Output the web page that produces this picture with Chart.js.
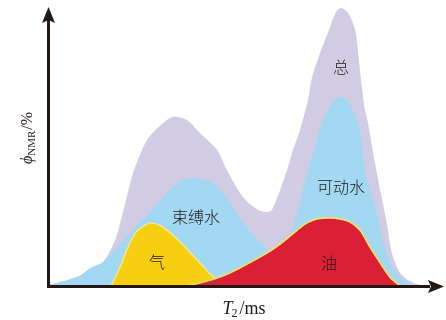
<!DOCTYPE html>
<html>
<head>
<meta charset="utf-8">
<script src="https://cdn.jsdelivr.net/npm/chart.js@4/dist/chart.umd.min.js"></script>
<style>
  html, body { margin: 0; padding: 0; background: #ffffff; }
  #wrap { width: 446px; height: 320px; }
</style>
</head>
<body>
<div id="wrap"><canvas id="c" width="446" height="320"></canvas></div>
<script>
// NMR T2 spectrum split into fluid components (x: relative T2 position, y: relative porosity amplitude)
const totalCurve = [
  [0, 0.4], [4.9, 2.2], [8.2, 4.0], [10.7, 6.5], [13.8, 8.6], [16.9, 16.5], [18.4, 23.7],
  [19.7, 30.9], [21.5, 40.6], [25.1, 52.5], [29.2, 58.6], [31.7, 60.8], [35.3, 59.7],
  [38.6, 55.0], [43.0, 48.9], [45.5, 41.7], [49.6, 32.0], [53.5, 27.3], [55.8, 26.6],
  [57.0, 27.3], [59.1, 34.5], [60.9, 41.7], [62.4, 48.9], [64.2, 56.1], [66.2, 66.9],
  [67.3, 75.2], [69.6, 84.9], [71.9, 93.2], [73.4, 98.6], [74.7, 100], [76.5, 98.2],
  [78.3, 92.1], [79.0, 84.9], [79.8, 74.1], [80.8, 63.3], [81.6, 58.6], [82.9, 47.8],
  [84.7, 34.5], [86.4, 22.7], [87.7, 11.9], [89.8, 4.7], [91.8, 2.2], [94.1, 0.7], [95.4, 0]
];
const waterCurve = [
  [0, 0.4], [4.9, 2.2], [8.2, 4.0], [10.7, 6.5], [13.8, 8.6], [20.7, 19.1], [28.6, 30.9],
  [30.9, 34.5], [34.0, 38.1], [37.9, 38.8], [41.9, 37.1], [44.5, 33.5], [47.1, 28.1],
  [50.6, 21.2], [54.0, 15.5], [56.0, 12.9], [58.3, 11.2], [60.9, 15.5], [62.4, 21.2],
  [64.2, 29.9], [65.5, 38.1], [67.3, 46.4], [68.5, 52.5], [70.1, 59.7], [71.9, 64.4],
  [73.7, 67.6], [74.9, 68.0], [76.2, 66.9], [77.7, 63.3], [79.0, 58.6], [80.1, 50.0],
  [80.8, 41.7], [82.1, 34.5], [83.9, 26.3], [85.2, 17.6], [86.4, 11.9], [88.0, 6.5],
  [90.5, 2.2], [93.1, 0.4], [94.1, 0]
];
const gasCurve = [
  [15.9, 0], [18.2, 6.8], [20.2, 14.0], [22.3, 19.4], [24.6, 21.9], [26.1, 22.7],
  [28.6, 21.6], [32.2, 17.6], [36.2, 11.9], [38.6, 8.3], [41.2, 4.3], [43.7, 1.4], [45.3, 0]
];
const oilCurve = [
  [34.8, 0], [38.6, 1.1], [43.7, 3.2], [48.8, 6.5], [55.8, 11.9], [59.8, 15.8],
  [64.2, 20.9], [66.0, 22.7], [68.5, 24.1], [71.9, 24.5], [74.4, 24.1], [77.0, 23.0],
  [79.5, 20.1], [82.1, 14.0], [84.7, 8.3], [87.2, 3.2], [89.8, 0]
];

// Region names, anchored in data units
const regionNames = ['总', '可动水', '束缚水', '气', '油'];
const regionAnchors = [[74.7, 78.8], [74.7, 35.6], [37.6, 24.8], [27.6, 8.6], [71.6, 8.3]];

const toPoints = arr => arr.map(p => ({ x: p[0], y: p[1] }));
const INK = '#231815';

const axesAndText = {
  id: 'axesAndText',
  afterDatasetsDraw(chart) {
    const { ctx, chartArea: a, scales } = chart;
    const xs = scales.x, ys = scales.y;

    // region names
    ctx.save();
    ctx.fillStyle = INK;
    ctx.font = '300 16px "Noto Sans CJK SC"';
    ctx.textAlign = 'center';
    ctx.textBaseline = 'middle';
    regionNames.forEach((t, i) => {
      ctx.fillText(t, xs.getPixelForValue(regionAnchors[i][0]), ys.getPixelForValue(regionAnchors[i][1]));
    });
    ctx.restore();

    // axes with arrow heads
    const x0 = a.left - 0.5, y0 = a.bottom + 0.5;
    ctx.save();
    ctx.strokeStyle = INK;
    ctx.fillStyle = INK;
    ctx.lineWidth = 3;
    ctx.lineCap = 'butt';
    ctx.beginPath();
    ctx.moveTo(x0, y0 + 1.5);
    ctx.lineTo(x0, a.top + 12);
    ctx.moveTo(x0 - 1.5, y0);
    ctx.lineTo(a.right - 10, y0);
    ctx.stroke();
    // y arrow
    ctx.beginPath();
    ctx.moveTo(x0, a.top - 1);
    ctx.lineTo(x0 + 6.5, a.top + 15);
    ctx.lineTo(x0, a.top + 12);
    ctx.lineTo(x0 - 6.5, a.top + 15);
    ctx.closePath();
    ctx.fill();
    // x arrow
    const xe = a.right + 4;
    ctx.beginPath();
    ctx.moveTo(xe, y0);
    ctx.lineTo(xe - 16, y0 - 6.5);
    ctx.lineTo(xe - 13, y0);
    ctx.lineTo(xe - 16, y0 + 6.5);
    ctx.closePath();
    ctx.fill();
    ctx.restore();

    const big = '18px "Liberation Serif"';
    const bigI = 'italic 18px "Liberation Serif"';
    const sub = '12px "Liberation Serif"';

    // x-axis title: T2/ms
    ctx.save();
    ctx.fillStyle = INK;
    ctx.textBaseline = 'alphabetic';
    ctx.font = bigI; const wT = ctx.measureText('T').width;
    ctx.font = sub; const w2 = ctx.measureText('2').width;
    ctx.font = big; const wR = ctx.measureText('/ms').width;
    let tx = 244 - (wT + w2 + wR + 1) / 2;
    const by = 314;
    ctx.font = bigI; ctx.fillText('T', tx, by); tx += wT;
    ctx.font = sub; ctx.fillText('2', tx - 1, by + 3); tx += w2 + 1;
    ctx.font = big; ctx.fillText('/ms', tx, by);
    ctx.restore();

    // y-axis title: ϕNMR/%
    const yBig = '16px "Liberation Serif"';
    const yBigI = 'italic 16px "Liberation Serif"';
    const ySub = '11px "Liberation Serif"';
    ctx.save();
    ctx.translate(32, 138);
    ctx.rotate(-Math.PI / 2);
    ctx.fillStyle = INK;
    ctx.textBaseline = 'alphabetic';
    ctx.font = yBigI; const wp = ctx.measureText('ϕ').width;
    ctx.font = ySub; const wn = ctx.measureText('NMR').width;
    ctx.font = yBig; const wq = ctx.measureText('/%').width;
    let ty = -(wp + wn + wq + 1) / 2;
    ctx.font = yBigI; ctx.fillText('ϕ', ty, 0); ty += wp;
    ctx.font = ySub; ctx.fillText('NMR', ty, 3); ty += wn + 1;
    ctx.font = yBig; ctx.fillText('/%', ty, 0);
    ctx.restore();
  }
};

new Chart(document.getElementById('c'), {
  type: 'line',
  data: {
    datasets: [
      { label: '油', data: toPoints(oilCurve), order: 1, fill: 'origin',
        backgroundColor: '#d92036', borderColor: '#f6e25a', borderWidth: 1.6 },
      { label: '气', data: toPoints(gasCurve), order: 2, fill: 'origin',
        backgroundColor: '#f6cf10', borderColor: '#fbe98c', borderWidth: 1.4 },
      { label: '水', data: toPoints(waterCurve), order: 3, fill: 'origin',
        backgroundColor: '#a3d8f2', borderWidth: 0 },
      { label: '总', data: toPoints(totalCurve), order: 4, fill: 'origin',
        backgroundColor: '#d1cce4', borderWidth: 0 }
    ]
  },
  options: {
    responsive: false,
    animation: false,
    devicePixelRatio: 1,
    layout: { padding: { left: 49, right: 6, top: 8, bottom: 34 } },
    elements: { point: { radius: 0 }, line: { tension: 0.3, borderJoinStyle: 'round' } },
    scales: {
      x: { type: 'linear', min: 0, max: 100, display: false },
      y: { type: 'linear', min: 0, max: 100, display: false }
    },
    plugins: { legend: { display: false }, tooltip: { enabled: false } }
  },
  plugins: [axesAndText]
});
</script>
</body>
</html>
